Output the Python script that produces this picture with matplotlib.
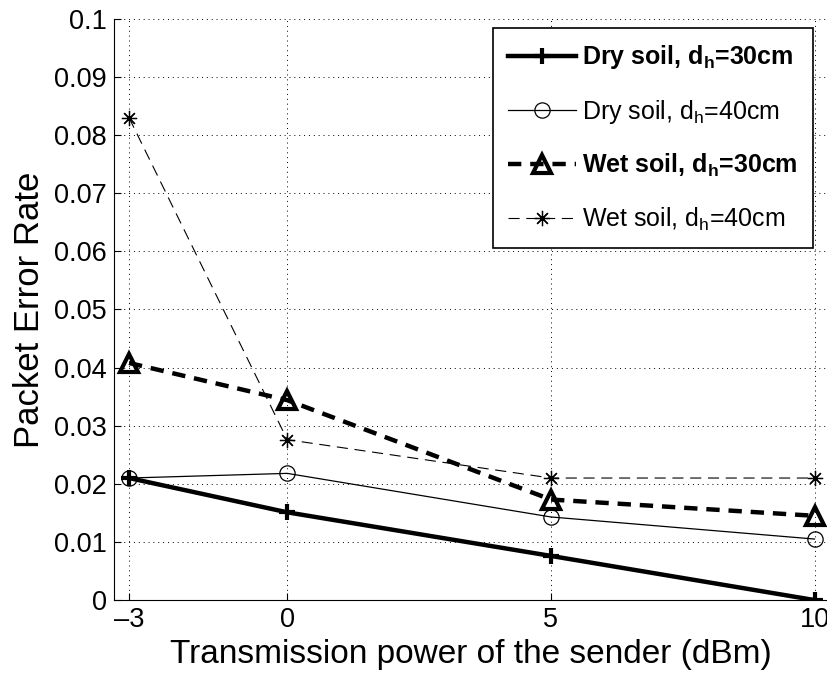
import numpy as np
import matplotlib
matplotlib.use('Agg')
import matplotlib.pyplot as plt

plt.rcParams['font.family'] = ['Liberation Sans', 'DejaVu Sans']
plt.rcParams['mathtext.fontset'] = 'custom'
plt.rcParams['mathtext.rm'] = 'Liberation Sans'
plt.rcParams['mathtext.bf'] = 'Liberation Sans:bold'

# data
power = [-3, 0, 5, 10]
dry_30 = [0.021, 0.0151, 0.0076, 0.0]
dry_40 = [0.021, 0.0218, 0.0143, 0.0105]
wet_30 = [0.0408, 0.0344, 0.0173, 0.0145]
wet_40 = [0.083, 0.0276, 0.0210, 0.0210]

yticks = [0, 0.01, 0.02, 0.03, 0.04, 0.05, 0.06, 0.07, 0.08, 0.09, 0.1]
ytick_labels = ['0', '0.01', '0.02', '0.03', '0.04', '0.05', '0.06', '0.07', '0.08', '0.09', '0.1']

fig = plt.figure(figsize=(8.28, 6.75), dpi=100)
ax = fig.add_axes([0.1377, 0.111, 0.8623, 0.861])

ax.plot(power, dry_30, 'k-', lw=3.2, marker='+', ms=11, mew=3,
        label=r'Dry soil, d$_{\mathbf{h}}$=30cm')
ax.plot(power, dry_40, 'k-', lw=0.9, marker='o', ms=11, mfc='none', mew=0.9,
        label=r'Dry soil, d$_{\mathrm{h}}$=40cm')
ax.plot(power, wet_30, 'k', ls=(0, (3, 2)), lw=3.2, marker='^', ms=13, mfc='none', mew=3,
        label=r'Wet soil, d$_{\mathbf{h}}$=30cm')
ax.plot(power, wet_40, 'k', ls=(0, (10, 6)), lw=0.8, marker=(8, 2, 0), ms=11, mew=0.9,
        label=r'Wet soil, d$_{\mathrm{h}}$=40cm')

ax.set_xlim(-3.285, 10.256)
ax.set_ylim(0, 0.1)
ax.set_xticks(power)
ax.set_xticklabels(['\u20133', '0', '5', '10'])
ax.set_yticks(yticks)
ax.set_yticklabels(ytick_labels)
ax.tick_params(direction='in', labelsize=19.5, length=5, width=0.8, pad=5)
ax.grid(True, ls=(0, (1, 4)), color='k', lw=0.7)
ax.spines['top'].set_visible(False)
ax.spines['right'].set_visible(False)

ax.set_xlabel('Transmission power of the sender (dBm)', fontsize=24, labelpad=4)
ax.set_ylabel('Packet Error Rate', fontsize=25, labelpad=6)

leg = ax.legend(loc='upper right', bbox_to_anchor=(0.979, 0.9845), borderaxespad=0,
                fontsize=18, frameon=True, fancybox=False, edgecolor='k', framealpha=1,
                handlelength=2.7, borderpad=0.62, labelspacing=1.05, handletextpad=0.25)
leg.get_frame().set_linewidth(1.2)
for t, bold in zip(leg.get_texts(), [True, False, True, False]):
    if bold:
        t.set_fontweight('bold')

fig.savefig('out.png', dpi=100)
